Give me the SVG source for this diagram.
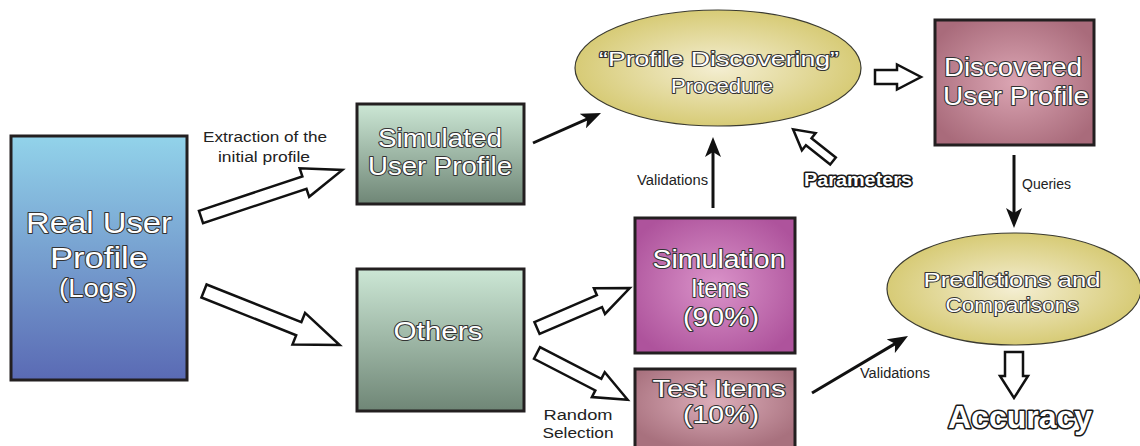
<svg xmlns="http://www.w3.org/2000/svg" width="1140" height="446" viewBox="0 0 1140 446">
  <defs>
    <linearGradient id="gBlue" x1="0" y1="0" x2="0" y2="1">
      <stop offset="0" stop-color="#92d3ea"/>
      <stop offset="1" stop-color="#5a6ab4"/>
    </linearGradient>
    <linearGradient id="gGreen" x1="0" y1="0" x2="0" y2="1">
      <stop offset="0" stop-color="#cce7d5"/>
      <stop offset="1" stop-color="#6f8676"/>
    </linearGradient>
    <radialGradient id="gYellow" cx="0.5" cy="0.5" r="0.5">
      <stop offset="0" stop-color="#f4eed2"/>
      <stop offset="1" stop-color="#d7cb76"/>
    </radialGradient>
    <radialGradient id="gRose" cx="0.5" cy="0.5" r="0.6">
      <stop offset="0" stop-color="#dba5b3"/>
      <stop offset="1" stop-color="#a96b7b"/>
    </radialGradient>
    <radialGradient id="gMagenta" cx="0.5" cy="0.5" r="0.6">
      <stop offset="0" stop-color="#da93c9"/>
      <stop offset="1" stop-color="#ae539c"/>
    </radialGradient>
    <radialGradient id="gTest" cx="0.5" cy="0.4" r="0.6">
      <stop offset="0" stop-color="#dcadb9"/>
      <stop offset="1" stop-color="#a8717e"/>
    </radialGradient>
    <marker id="head" viewBox="0 0 20 16" refX="12" refY="8" markerWidth="20" markerHeight="16" markerUnits="userSpaceOnUse" orient="auto">
      <path d="M0,0 L20,8 L0,16 L5,8 Z" fill="#111"/>
    </marker>
    <style>
      .box { stroke: #231f20; stroke-width: 3; }
      .oval { stroke: #3a3a30; stroke-width: 1.2; }
      .lbl { font-family: "Liberation Sans", Arial, sans-serif; fill: #ffffff; stroke: #333333; stroke-width: 2; paint-order: stroke; stroke-linejoin: round; text-anchor: middle; }
      .big { font-family: "Liberation Sans", Arial, sans-serif; font-weight: bold; fill: #ffffff; stroke: #1a1a1a; stroke-width: 3.2; paint-order: stroke; stroke-linejoin: round; text-anchor: middle; }
      .note { font-family: "Liberation Sans", Arial, sans-serif; fill: #222; font-size: 14px; }
      .hollow { fill: #ffffff; stroke: #111; stroke-width: 2.5; stroke-linejoin: miter; }
      .solid { fill: none; stroke: #111; stroke-width: 3; marker-end: url(#head); }
    </style>
  </defs>

  <rect width="1140" height="446" fill="#ffffff"/>

  <!-- nodes -->
  <g id="real-user-profile">
    <rect class="box" x="11" y="136" width="176" height="244" fill="url(#gBlue)"/>
    <text class="lbl" font-size="30" x="99" y="233" textLength="146" lengthAdjust="spacingAndGlyphs">Real User</text>
    <text class="lbl" font-size="30" x="99" y="268" textLength="98" lengthAdjust="spacingAndGlyphs">Profile</text>
    <text class="lbl" font-size="26" x="98" y="297" textLength="78" lengthAdjust="spacingAndGlyphs">(Logs)</text>
  </g>

  <g id="simulated-user-profile">
    <rect class="box" x="357" y="104" width="167" height="100" fill="url(#gGreen)"/>
    <text class="lbl" font-size="26" x="440" y="147" textLength="124" lengthAdjust="spacingAndGlyphs">Simulated</text>
    <text class="lbl" font-size="26" x="440" y="175" textLength="144" lengthAdjust="spacingAndGlyphs">User Profile</text>
  </g>

  <g id="others">
    <rect class="box" x="357" y="269" width="167" height="142" fill="url(#gGreen)"/>
    <text class="lbl" font-size="26" x="438" y="340" textLength="89" lengthAdjust="spacingAndGlyphs">Others</text>
  </g>

  <g id="profile-discovering">
    <ellipse class="oval" cx="718" cy="68" rx="143" ry="58" fill="url(#gYellow)"/>
    <text class="lbl" font-size="21" x="719" y="66" textLength="240" lengthAdjust="spacingAndGlyphs">“Profile Discovering”</text>
    <text class="lbl" font-size="21" x="722" y="93" textLength="102" lengthAdjust="spacingAndGlyphs">Procedure</text>
  </g>

  <g id="discovered-user-profile">
    <rect class="box" x="935" y="20" width="159" height="125" fill="url(#gRose)"/>
    <text class="lbl" font-size="25" x="1013" y="76" textLength="138" lengthAdjust="spacingAndGlyphs">Discovered</text>
    <text class="lbl" font-size="25" x="1016" y="105" textLength="146" lengthAdjust="spacingAndGlyphs">User Profile</text>
  </g>

  <g id="simulation-items">
    <rect class="box" x="635" y="218" width="160" height="135" fill="url(#gMagenta)"/>
    <text class="lbl" font-size="25" x="719" y="268" textLength="133" lengthAdjust="spacingAndGlyphs">Simulation</text>
    <text class="lbl" font-size="25" x="720" y="297" textLength="58" lengthAdjust="spacingAndGlyphs">Items</text>
    <text class="lbl" font-size="25" x="721" y="326" textLength="76" lengthAdjust="spacingAndGlyphs">(90%)</text>
  </g>

  <g id="test-items">
    <rect class="box" x="635" y="369" width="160" height="82" fill="url(#gTest)"/>
    <text class="lbl" font-size="23" x="719" y="397" textLength="133" lengthAdjust="spacingAndGlyphs">Test Items</text>
    <text class="lbl" font-size="23" x="721" y="423" textLength="76" lengthAdjust="spacingAndGlyphs">(10%)</text>
  </g>

  <g id="predictions-comparisons">
    <ellipse class="oval" cx="1014" cy="289" rx="127" ry="56" fill="url(#gYellow)"/>
    <text class="lbl" font-size="21" x="1012" y="287" textLength="177" lengthAdjust="spacingAndGlyphs">Predictions and</text>
    <text class="lbl" font-size="21" x="1012" y="312" textLength="133" lengthAdjust="spacingAndGlyphs">Comparisons</text>
  </g>

  <g id="accuracy">
    <text class="big" font-size="32" x="1020" y="428" textLength="144" lengthAdjust="spacingAndGlyphs">Accuracy</text>
  </g>

  <g id="parameters">
    <text class="big" font-size="18" x="858" y="186" textLength="108" lengthAdjust="spacingAndGlyphs" style="stroke-width:3">Parameters</text>
  </g>

  <!-- connectors -->
  <g id="connectors">
    <!-- outlined block arrows: drawn along +x from the tail, then placed -->
    <path class="hollow" transform="translate(201,217) rotate(-18.4)" d="M0,-6.5 L109,-6.5 L109,-15 L149,0 L109,15 L109,6.5 L0,6.5 Z"/>
    <path class="hollow" transform="translate(204,291) rotate(21.7)" d="M0,-7 L102,-7 L102,-17 L146,0 L102,17 L102,7 L0,7 Z"/>
    <path class="hollow" transform="translate(537,328) rotate(-23.3)" d="M0,-6.5 L68,-6.5 L68,-14 L101,0 L68,14 L68,6.5 L0,6.5 Z"/>
    <path class="hollow" transform="translate(537,353) rotate(27.3)" d="M0,-6.5 L69,-6.5 L69,-14 L102,0 L69,14 L69,6.5 L0,6.5 Z"/>
    <path class="hollow" transform="translate(875,77)" d="M0,-7 L22,-7 L22,-12.5 L46,0 L22,12.5 L22,7 L0,7 Z"/>
    <path class="hollow" transform="translate(1014,352) rotate(90)" d="M0,-9 L24,-9 L24,-14 L46,0 L24,14 L24,9 L0,9 Z"/>
    <path class="hollow" transform="translate(833,161) rotate(-141.5)" d="M0,-4.5 L31,-4.5 L31,-11 L51,0 L31,11 L31,4.5 L0,4.5 Z"/>

    <!-- plain arrows -->
    <path class="solid" d="M533,143 L593.7,116.2"/>
    <path class="solid" d="M713,208 L713,145"/>
    <path class="solid" d="M1014,155 L1014,220"/>
    <path class="solid" d="M812,393 L901.1,340.1"/>

    <!-- connector labels -->
    <text class="note" x="265" y="142" text-anchor="middle" textLength="124" lengthAdjust="spacingAndGlyphs">Extraction of the</text>
    <text class="note" x="264" y="162" text-anchor="middle" textLength="92" lengthAdjust="spacingAndGlyphs">initial profile</text>
    <text class="note" font-size="13" x="708" y="185" text-anchor="end" textLength="71" lengthAdjust="spacingAndGlyphs">Validations</text>
    <text class="note" font-size="13" x="1022" y="189" textLength="49" lengthAdjust="spacingAndGlyphs">Queries</text>
    <text class="note" font-size="13" x="860" y="378" textLength="70" lengthAdjust="spacingAndGlyphs">Validations</text>
    <text class="note" x="578" y="420" text-anchor="middle" textLength="69" lengthAdjust="spacingAndGlyphs">Random</text>
    <text class="note" x="578" y="438" text-anchor="middle" textLength="71" lengthAdjust="spacingAndGlyphs">Selection</text>
  </g>
</svg>
